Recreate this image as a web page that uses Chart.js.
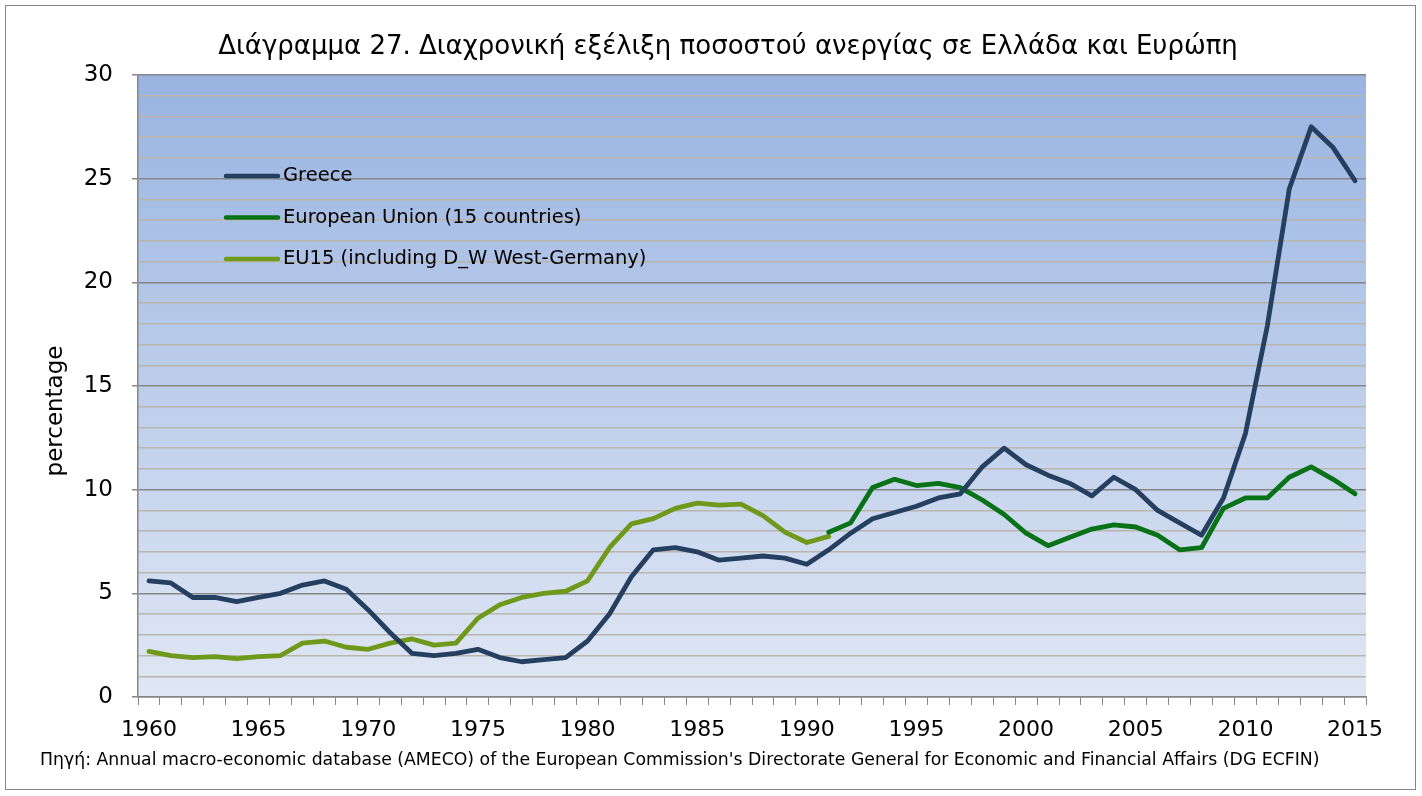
<!DOCTYPE html>
<html>
<head>
<meta charset="utf-8">
<script src="https://cdn.jsdelivr.net/npm/chart.js@4"></script>
<style>
  html, body { margin: 0; padding: 0; background: #fff; }
  #wrap { position: relative; width: 1422px; height: 796px; }
</style>
</head>
<body>
<div id="wrap"><canvas id="chart" width="1422" height="796"></canvas></div>
<script>
const chartTitle = 'Διάγραμμα 27. Διαχρονική εξέλιξη ποσοστού ανεργίας σε Ελλάδα και Ευρώπη';
const sourceNote = "Πηγή: Annual macro-economic database (AMECO) of the European Commission's Directorate General for Economic and Financial Affairs (DG ECFIN)";
const yTitle = 'percentage';

const years = [];
for (let y = 1960; y <= 2015; y++) years.push(String(y));

const greece = [
  5.6, 5.5, 4.8, 4.8, 4.6, 4.8, 5.0, 5.4, 5.6, 5.2,
  4.2, 3.1, 2.1, 2.0, 2.1, 2.3, 1.9, 1.7, 1.8, 1.9,
  2.7, 4.0, 5.8, 7.1, 7.2, 7.0, 6.6, 6.7, 6.8, 6.7,
  6.4, 7.1, 7.9, 8.6, 8.9, 9.2, 9.6, 9.8, 11.1, 12.0,
  11.2, 10.7, 10.3, 9.7, 10.6, 10.0, 9.0, 8.4, 7.8, 9.6,
  12.7, 17.9, 24.5, 27.5, 26.5, 24.9
];

// EU 15 countries, available from 1991
const eu15 = [
  null, null, null, null, null, null, null, null, null, null,
  null, null, null, null, null, null, null, null, null, null,
  null, null, null, null, null, null, null, null, null, null,
  null, 7.95, 8.4, 10.1, 10.5, 10.2, 10.3, 10.1, 9.5, 8.8,
  7.9, 7.3, 7.7, 8.1, 8.3, 8.2, 7.8, 7.1, 7.2, 9.1,
  9.6, 9.6, 10.6, 11.1, 10.5, 9.8
];

// EU15 incl. West Germany, 1960-1991
const eu15dw = [
  2.2, 2.0, 1.9, 1.95, 1.85, 1.95, 2.0, 2.6, 2.7, 2.4,
  2.3, 2.6, 2.8, 2.5, 2.6, 3.8, 4.45, 4.8, 5.0, 5.1,
  5.6, 7.2, 8.35, 8.6, 9.1, 9.35, 9.25, 9.3, 8.75, 7.95,
  7.45, 7.75
];

const seriesNames = ['Greece', 'European Union (15 countries)', 'EU15 (including D_W West-Germany)'];
const seriesColors = ['#243f60', '#077216', '#6f991a'];

const FONT = '"DejaVu Sans", sans-serif';

const plotBg = {
  id: 'plotBg',
  beforeDraw(chart) {
    const { ctx, chartArea: a } = chart;
    const g = ctx.createLinearGradient(0, a.top, 0, a.bottom);
    g.addColorStop(0, '#99b4e1');
    g.addColorStop(1, '#e0e7f4');
    ctx.save();
    ctx.fillStyle = g;
    ctx.fillRect(a.left, a.top, a.right - a.left, a.bottom - a.top);
    ctx.restore();
  }
};

const texts = {
  id: 'texts',
  afterDraw(chart) {
    const ctx = chart.ctx;
    ctx.save();
    ctx.fillStyle = '#000';
    ctx.textBaseline = 'middle';
    ctx.textAlign = 'center';
    ctx.font = '26px ' + FONT;
    ctx.fillText(chartTitle, 728, 47);

    // y axis title
    ctx.save();
    ctx.translate(56, 411);
    ctx.rotate(-Math.PI / 2);
    ctx.font = '23px ' + FONT;
    ctx.fillText(yTitle, 0, 0);
    ctx.restore();

    ctx.textAlign = 'left';
    ctx.font = '17.3px ' + FONT;
    ctx.fillText(sourceNote, 40, 761);

    // legend inside the plot
    ctx.font = '19.5px ' + FONT;
    chart.data.datasets.forEach((ds, i) => {
      const y = 176 + i * 41.5;
      ctx.strokeStyle = ds.borderColor;
      ctx.lineWidth = 4.5;
      ctx.lineCap = 'round';
      ctx.beginPath();
      ctx.moveTo(226, y);
      ctx.lineTo(278, y);
      ctx.stroke();
      ctx.fillText(ds.label, 283, y);
    });

    // outer frame
    ctx.strokeStyle = '#868686';
    ctx.lineWidth = 1;
    ctx.strokeRect(5.5, 5.5, 1410, 784);
    ctx.restore();
  }
};

new Chart(document.getElementById('chart'), {
  type: 'line',
  data: {
    labels: years,
    datasets: [
      { label: seriesNames[0], data: greece, borderColor: seriesColors[0] },
      { label: seriesNames[1], data: eu15, borderColor: seriesColors[1] },
      { label: seriesNames[2], data: eu15dw, borderColor: seriesColors[2] }
    ]
  },
  options: {
    responsive: false,
    animation: false,
    layout: { padding: { top: 75, right: 56, left: 40, bottom: 49 } },
    elements: {
      line: { borderWidth: 4.8, tension: 0, borderCapStyle: 'round', borderJoinStyle: 'round' },
      point: { radius: 0, hoverRadius: 0 }
    },
    plugins: {
      legend: { display: false },
      title: { display: false },
      tooltip: { enabled: false }
    },
    scales: {
      x: {
        offset: true,
        afterFit: s => { s.height = 50; },
        grid: { offset: true, drawOnChartArea: false, tickLength: 8, color: '#868686', lineWidth: 1 },
        border: { color: '#868686', width: 1.5 },
        ticks: {
          autoSkip: false, maxRotation: 0, padding: 12, color: '#000',
          font: { family: FONT, size: 22 },
          callback(v, i) { const y = this.getLabelForValue(v); return Number(y) % 5 === 0 ? y : ''; }
        }
      },
      y: {
        min: 0, max: 30,
        afterFit: s => { s.width = 98; },
        grid: {
          tickLength: 6,
          lineWidth: 1.5,
          color: c => (c.tick && c.tick.value % 5 === 0) ? '#868686' : '#bab6ab',
          tickColor: c => (c.tick && c.tick.value % 5 === 0) ? '#868686' : 'rgba(0,0,0,0)'
        },
        border: { color: '#868686', width: 1.5 },
        ticks: {
          stepSize: 1, autoSkip: false, padding: 19, color: '#000',
          font: { family: FONT, size: 23 },
          callback: v => v % 5 === 0 ? v : ''
        }
      }
    }
  },
  plugins: [plotBg, texts]
});
</script>
</body>
</html>
